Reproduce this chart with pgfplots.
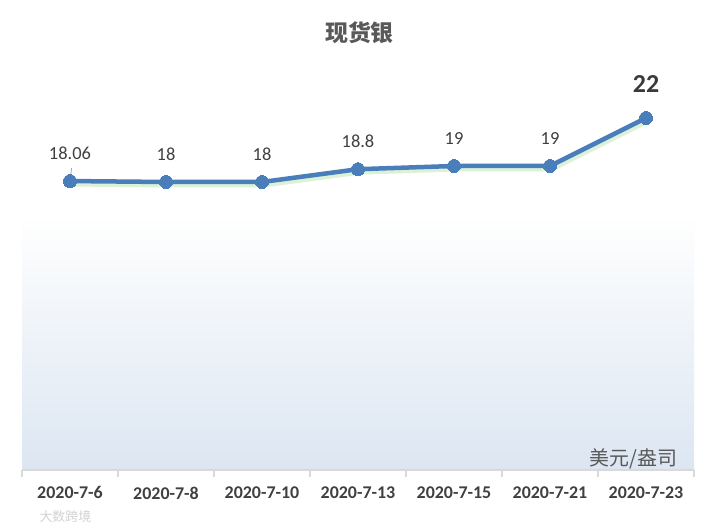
\documentclass[border=0pt]{standalone}
\usepackage{pgfplots}
\pgfplotsset{compat=1.18}
\usepackage{fontspec}
\setmainfont{Carlito}
\newfontfamily\cjk{Noto Sans CJK SC}
\definecolor{linec}{HTML}{4A7EBB}
\definecolor{bgblue}{HTML}{DCE6F2}
\definecolor{txt}{HTML}{404040}
\definecolor{ttl}{HTML}{595959}
\definecolor{axc}{HTML}{D9D9D9}
\definecolor{glow}{HTML}{A8DC98}
\pgfdeclareverticalshading{bgshade}{100bp}{color(0bp)=(bgblue); color(25bp)=(bgblue); color(57bp)=(white); color(100bp)=(white)}
\begin{document}
\begin{tikzpicture}
\path[use as bounding box, fill=white] (0,0) rectangle (719bp,532bp);
\node[font=\cjk\bfseries\fontsize{23}{25}\selectfont, text=ttl] at (359.5bp,499bp) {现货银};
\node[anchor=west, font=\cjk\fontsize{13}{14}\selectfont, text=gray!35] at (36bp,15bp) {大数跨境};
\begin{axis}[at={(22bp,62bp)}, anchor=south west, scale only axis,
  width=672bp, height=400bp,
  xmin=-0.5, xmax=6.5, ymin=0, ymax=25,
  axis x line*=bottom, axis y line=none,
  axis line style={draw=axc, line width=1.5bp},
  tick align=outside,
  xtick={0,...,6},
  xticklabels={2020-7-6,2020-7-8,2020-7-10,2020-7-13,2020-7-15,2020-7-21,2020-7-23},
  major tick length=0pt,
  minor xtick={-0.5,0.5,...,6.5},
  minor tick length=7bp,
  minor tick style={draw=axc, line width=1.5bp},
  xticklabel style={font=\bfseries\fontsize{18}{20}\selectfont, text=txt, inner sep=0pt, yshift=-16.5bp},
  axis background/.style={shading=bgshade},
  clip=false]
\addplot[draw=glow, line width=6bp, opacity=0.4, yshift=-2.5bp, xshift=1.5bp, forget plot] coordinates {
(0,18.06) (1,18) (2,18) (3,18.8) (4,19) (5,19) (6,22)};
\addplot[draw=linec, line width=4.5bp, mark=*, mark size=6.5bp, mark options={fill=linec, draw=linec, line width=0pt}] coordinates {
(0,18.06) (1,18) (2,18) (3,18.8) (4,19) (5,19) (6,22)};
\addplot[draw=none, nodes near coords, point meta=explicit symbolic,
  every node near coord/.append style={font=\fontsize{18.5}{20}\selectfont, text=txt, inner sep=0pt, anchor=south, yshift=21bp}]
  coordinates {(0,18.06) [18.06] (1,18) [18] (2,18) [18] (3,18.8) [18.8] (4,19) [19] (5,19) [19]};
\addplot[draw=none, nodes near coords, point meta=explicit symbolic,
  every node near coord/.append style={font=\bfseries\fontsize{26}{28}\selectfont, text=txt!90!black, inner sep=0pt, anchor=south, yshift=25bp}]
  coordinates {(6,22) [22]};
\draw[gray!70, line width=0.8bp] (axis cs:0,18.06) ++(0.6bp,5bp) -- ++(1bp,8bp);
\node[anchor=east, font=\cjk\fontsize{20}{21}\selectfont, text=ttl, inner sep=0pt] at (rel axis cs:0.975,0.0275) {美元/盎司};
\end{axis}
\end{tikzpicture}
\end{document}
